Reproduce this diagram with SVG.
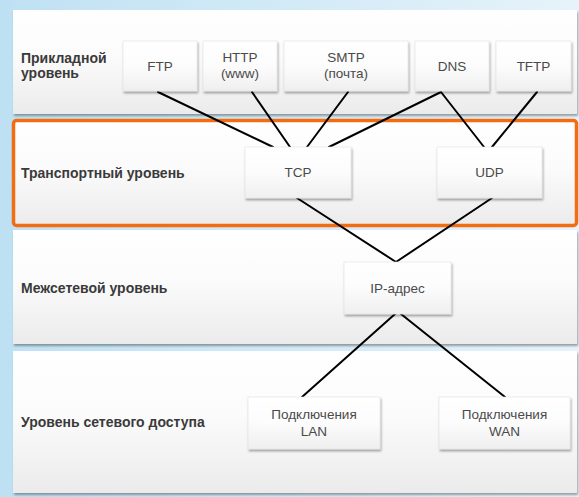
<svg xmlns="http://www.w3.org/2000/svg" width="579" height="497" viewBox="0 0 579 497">
<defs>
<linearGradient id="bg" x1="0" y1="0" x2="1" y2="0">
<stop offset="0" stop-color="#bfe1f3"/>
<stop offset="1" stop-color="#e6f3fa"/>
</linearGradient>
<linearGradient id="panel" x1="0" y1="0" x2="0" y2="1">
<stop offset="0" stop-color="#ffffff"/>
<stop offset="0.45" stop-color="#fbfbfb"/>
<stop offset="1" stop-color="#ebebeb"/>
</linearGradient>
<linearGradient id="box" x1="0" y1="0" x2="0" y2="1">
<stop offset="0" stop-color="#ffffff"/>
<stop offset="0.5" stop-color="#fcfcfc"/>
<stop offset="1" stop-color="#efefef"/>
</linearGradient>
<filter id="sh" x="-10%" y="-10%" width="125%" height="130%">
<feDropShadow dx="1" dy="2" stdDeviation="1.2" flood-color="#000" flood-opacity="0.35"/>
</filter>
</defs>
<style>
.panel{fill:url(#panel);filter:url(#sh)}
.box{fill:url(#box);stroke:#e2e2e2;stroke-width:0.6;filter:url(#sh)}
.lbl{font-family:"Liberation Sans",Arial,sans-serif;font-weight:bold;font-size:14px;fill:#3a3a3a}
.t{font-family:"Liberation Sans",Arial,sans-serif;font-size:13.5px;fill:#4a4a4a;text-anchor:middle}
.c line{stroke:#000;stroke-width:2;stroke-linecap:round}
</style>
<rect x="0" y="0" width="579" height="497" fill="url(#bg)"/>
<rect x="0" y="0" width="13" height="497" fill="#bde0f2"/>

<g id="layer-application">
<rect class="panel" x="13" y="10" width="564" height="104"/>
<text class="lbl" x="21" y="63">Прикладной</text>
<text class="lbl" x="21" y="78">уровень</text>
</g>
<g id="layer-transport">
<rect x="13.5" y="120.5" width="563" height="105" rx="3" fill="url(#panel)" stroke="#f36c12" stroke-width="3.5"/>
<text class="lbl" x="21" y="178">Транспортный уровень</text>
</g>
<g id="layer-internet">
<rect class="panel" x="13" y="230" width="564" height="114"/>
<text class="lbl" x="21" y="293">Межсетевой уровень</text>
</g>
<g id="layer-access">
<rect class="panel" x="13" y="351" width="564" height="142"/>
<text class="lbl" x="21" y="427">Уровень сетевого доступа</text>
</g>

<g id="connectors" class="c">
<line x1="158" y1="92" x2="273" y2="147"/>
<line x1="252" y1="92" x2="290" y2="147"/>
<line x1="348" y1="92" x2="307" y2="147"/>
<line x1="441" y1="92" x2="329" y2="147"/>
<line x1="441" y1="92" x2="484" y2="147"/>
<line x1="537" y1="92" x2="492" y2="147"/>
<line x1="297" y1="198" x2="396" y2="262"/>
<line x1="492" y1="198" x2="396" y2="262"/>
<line x1="395" y1="314" x2="302" y2="397"/>
<line x1="401" y1="314" x2="505" y2="397"/>
</g>

<g id="ftp"><rect class="box" x="123" y="41" width="74" height="50"/><text class="t" x="160" y="71">FTP</text></g>
<g id="http"><rect class="box" x="203" y="41" width="74" height="50"/><text class="t" x="240" y="62">HTTP</text><text class="t" x="240" y="78">(www)</text></g>
<g id="smtp"><rect class="box" x="284" y="41" width="124" height="50"/><text class="t" x="346" y="62">SMTP</text><text class="t" x="346" y="78">(почта)</text></g>
<g id="dns"><rect class="box" x="415" y="41" width="74" height="50"/><text class="t" x="452" y="71">DNS</text></g>
<g id="tftp"><rect class="box" x="496" y="41" width="75" height="50"/><text class="t" x="533.5" y="71">TFTP</text></g>
<g id="tcp"><rect class="box" x="245" y="147" width="106" height="51"/><text class="t" x="298" y="177">TCP</text></g>
<g id="udp"><rect class="box" x="437" y="147" width="105" height="51"/><text class="t" x="489.5" y="177">UDP</text></g>
<g id="ip"><rect class="box" x="344" y="262" width="107" height="52"/><text class="t" x="397.5" y="293">IP-адрес</text></g>
<g id="lan"><rect class="box" x="248" y="397" width="132" height="52"/><text class="t" x="314" y="419">Подключения</text><text class="t" x="314" y="436">LAN</text></g>
<g id="wan"><rect class="box" x="439" y="397" width="131" height="52"/><text class="t" x="504.5" y="419">Подключения</text><text class="t" x="504.5" y="436">WAN</text></g>
</svg>
